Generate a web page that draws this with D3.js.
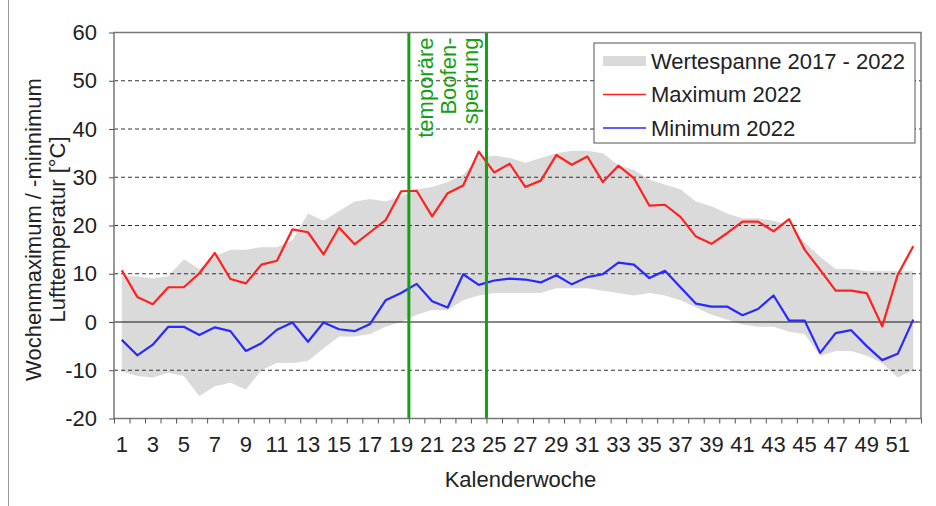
<!DOCTYPE html>
<html>
<head>
<meta charset="utf-8">
<script src="https://cdn.jsdelivr.net/npm/d3@7"></script>
<style>
  body { margin: 0; background: #fff; }
  svg text { font-family: "Liberation Sans", Arial, sans-serif; fill: #222; }
</style>
</head>
<body>
<div id="chart-area"></div>
<script>
// Kalenderwochen 1..52
const weeks = d3.range(1, 53);

// Maximum 2022
const maxValues = [10.7, 5.2, 3.7, 7.2, 7.2, 10.1, 14.3, 8.9, 8.0, 11.9,
    12.7, 19.2, 18.6, 14.0, 19.6, 16.1, 18.6, 21.1, 27.1, 27.2,
    21.9, 26.7, 28.3, 35.3, 31.0, 32.8, 28.0, 29.3, 34.6, 32.6,
    34.3, 29.0, 32.4, 29.8, 24.1, 24.3, 21.8, 17.7, 16.2, 18.4,
    20.8, 20.8, 18.8, 21.3, 15.0, 10.8, 6.5, 6.5, 6.0, -0.9,
    9.8, 15.7];

// Minimum 2022
const minValues = [-3.7, -6.9, -4.7, -1.0, -1.0, -2.7, -1.1, -1.9, -6.0, -4.4,
    -1.6, -0.1, -4.1, -0.1, -1.5, -1.9, -0.4, 4.5, 6.0, 7.9,
    4.3, 3.0, 9.9, 7.7, 8.6, 9.0, 8.8, 8.2, 9.7, 7.8,
    9.3, 9.9, 12.3, 11.9, 9.1, 10.6, 7.2, 3.8, 3.2, 3.2,
    1.4, 2.7, 5.5, 0.3, 0.3, -6.4, -2.3, -1.7, -5.0, -7.9,
    -6.6, 0.5];

// Wertespanne 2017 - 2022 (oberer / unterer Rand)
const rangeHigh = [9.5, 9.5, 9.0, 9.5, 13.0, 11.0, 13.6, 15.0, 15.0, 15.5,
    15.5, 17.0, 22.5, 21.0, 23.0, 25.0, 25.5, 25.0, 26.0, 27.5,
    28.0, 29.0, 30.5, 34.0, 34.5, 34.0, 33.0, 34.0, 35.0, 35.5,
    35.5, 35.0, 32.5, 31.5, 29.5, 28.5, 27.5, 25.0, 24.0, 22.5,
    21.5, 21.5, 21.0, 20.0, 16.5, 13.5, 11.0, 11.0, 10.5, 10.5,
    10.5, 10.5];
const rangeLow = [-10.2, -11.2, -11.5, -10.5, -11.2, -15.4, -13.3, -12.6, -14.0, -10.0,
    -8.5, -8.5, -8.1, -5.5, -3.0, -3.0, -2.5, -1.0, 0.0, 1.5,
    2.5, 2.5, 4.5, 5.5, 6.0, 6.0, 6.0, 6.0, 7.0, 7.0,
    7.0, 6.5, 6.0, 5.5, 6.0, 5.5, 4.5, 3.0, 1.5, 0.5,
    -0.5, -1.0, -1.0, -2.0, -2.5, -7.0, -6.0, -6.0, -7.0, -8.5,
    -11.5, -10.0];

const yTicks = [-20, -10, 0, 10, 20, 30, 40, 50, 60];
const xLabels = weeks.filter(w => w % 2 === 1);
// Boofensperrung: zwischen KW 19/20 und KW 24/25
const closureEdges = [19, 24];
const closureText = ["temporäre", "Boofen-", "sperrung"];

const legendItems = [
    {label: "Wertespanne 2017 - 2022", type: "band"},
    {label: "Maximum 2022", type: "line", color: "#ff2020"},
    {label: "Minimum 2022", type: "line", color: "#2828ff"}
];

const width = 936;
const height = 506;
const margin = {top: 32.5, right: 15, bottom: 87.5, left: 114};
const plotW = width - margin.left - margin.right;
const plotH = height - margin.top - margin.bottom;
const fontSize = "22px";

const svg = d3.select("#chart-area")
    .append("svg")
    .attr("width", width)
    .attr("height", height);

// left frame line
svg.append("line")
    .attr("x1", 8.5).attr("x2", 8.5)
    .attr("y1", 0).attr("y2", height)
    .attr("stroke", "#9a9a9a");

const g = svg.append("g")
    .attr("transform", "translate(" + margin.left + "," + margin.top + ")");

const x = d3.scaleBand()
    .domain(weeks)
    .range([0, plotW])
    .padding(0);
const xEdge = d3.scaleLinear()
    .domain([0, 52])
    .range([0, plotW]);
const y = d3.scaleLinear()
    .domain([-20, 60])
    .range([plotH, 0]);

const cx = w => x(w) + x.bandwidth() / 2;

// band
const area = d3.area()
    .x((d, i) => cx(weeks[i]))
    .y0((d, i) => y(rangeLow[i]))
    .y1((d, i) => y(rangeHigh[i]));

g.append("path")
    .datum(rangeHigh)
    .attr("d", area)
    .attr("fill", "#dadada");

// dashed grid
g.selectAll(".grid")
    .data(yTicks.filter(v => v !== 0 && v !== -20 && v !== 60))
    .enter()
    .append("line")
    .attr("x1", 0).attr("x2", plotW)
    .attr("y1", d => y(d)).attr("y2", d => y(d))
    .attr("stroke", "#333")
    .attr("stroke-width", 1)
    .attr("stroke-dasharray", "4,3");

g.append("line")
    .attr("x1", 0).attr("x2", plotW)
    .attr("y1", y(0)).attr("y2", y(0))
    .attr("stroke", "#111")
    .attr("stroke-width", 1.2);

// lines
const lineGen = vals => d3.line()
    .x((d, i) => cx(weeks[i]))
    .y(d => y(d))(vals);

g.append("path")
    .attr("d", lineGen(maxValues))
    .attr("fill", "none")
    .attr("stroke", "#ff2020")
    .attr("stroke-width", 2.2)
    .attr("stroke-linejoin", "round");

g.append("path")
    .attr("d", lineGen(minValues))
    .attr("fill", "none")
    .attr("stroke", "#2828ff")
    .attr("stroke-width", 2.2)
    .attr("stroke-linejoin", "round");

// Sperrung
g.selectAll(".closure")
    .data(closureEdges)
    .enter()
    .append("line")
    .attr("x1", d => xEdge(d)).attr("x2", d => xEdge(d))
    .attr("y1", 0).attr("y2", plotH)
    .attr("stroke", "#13a013")
    .attr("stroke-width", 3);

g.selectAll(".closureText")
    .data(closureText)
    .enter()
    .append("text")
    .attr("transform", (d, i) => "translate(" + (xEdge(closureEdges[0]) + 24.5 + i * 22.5) + ",5) rotate(-90)")
    .attr("text-anchor", "end")
    .style("fill", "#13a013")
    .style("font-size", fontSize)
    .text(d => d);

// plot frame
g.append("rect")
    .attr("width", plotW).attr("height", plotH)
    .attr("fill", "none")
    .attr("stroke", "#777")
    .attr("stroke-width", 1.5);

// y axis
const yAxisCall = d3.axisLeft(y).tickValues(yTicks).tickSize(5).tickPadding(12)
    .tickFormat(d => String(d));
const yAxis = g.append("g").call(yAxisCall);
yAxis.select(".domain").remove();
yAxis.selectAll("line").attr("stroke", "#555");
yAxis.selectAll("text").style("font-size", fontSize).style("fill", "#222");

// x axis: ticks at week boundaries, labels at odd weeks
const xTickCall = d3.axisBottom(xEdge).tickValues(d3.range(0, 53)).tickSize(5).tickFormat("");
const xTicks = g.append("g")
    .attr("transform", "translate(0," + plotH + ")")
    .call(xTickCall);
xTicks.select(".domain").remove();
xTicks.selectAll("line").attr("stroke", "#555");

const xLabelCall = d3.axisBottom(x).tickValues(xLabels).tickSize(0).tickPadding(18);
const xAxis = g.append("g")
    .attr("transform", "translate(0," + plotH + ")")
    .call(xLabelCall);
xAxis.select(".domain").remove();
xAxis.selectAll("text").style("font-size", fontSize).style("fill", "#222");

// axis titles
g.append("text")
    .attr("x", plotW / 2 + 3)
    .attr("y", plotH + 68)
    .attr("text-anchor", "middle")
    .style("font-size", fontSize)
    .text("Kalenderwoche");

const yTitle = g.append("text")
    .attr("transform", "translate(" + (-73) + "," + (plotH / 2 + 4) + ") rotate(-90)")
    .attr("text-anchor", "middle")
    .style("font-size", fontSize);
yTitle.append("tspan").attr("x", 0).attr("dy", 0).text("Wochenmaximum / -minnimum");
yTitle.append("tspan").attr("x", 0).attr("dy", 24).text("Lufttemperatur [°C]");

// legend
const legend = svg.append("g").attr("transform", "translate(594,43)");
legend.append("rect")
    .attr("width", 321).attr("height", 100)
    .attr("fill", "#fff")
    .attr("stroke", "#555")
    .attr("stroke-width", 1);

const items = legend.selectAll(".item")
    .data(legendItems)
    .enter()
    .append("g")
    .attr("transform", (d, i) => "translate(0," + (18 + i * 33.5) + ")");

items.filter(d => d.type === "band")
    .append("rect")
    .attr("x", 9).attr("y", -5)
    .attr("width", 43).attr("height", 10)
    .attr("fill", "#dadada");

items.filter(d => d.type === "line")
    .append("line")
    .attr("x1", 9).attr("x2", 52)
    .attr("y1", 0).attr("y2", 0)
    .attr("stroke", d => d.color)
    .attr("stroke-width", 1.5);

items.append("text")
    .attr("x", 57)
    .attr("y", 0)
    .attr("dy", "0.35em")
    .style("font-size", fontSize)
    .text(d => d.label);
</script>
</body>
</html>
